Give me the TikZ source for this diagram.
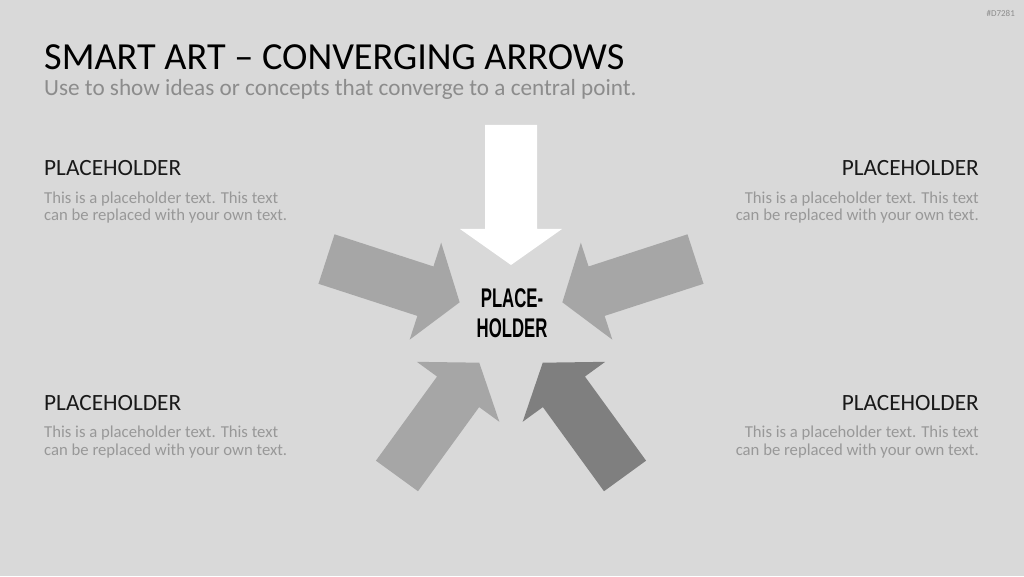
\documentclass[tikz,border=0pt]{standalone}
\usepackage{fontspec}
\setmainfont{Carlito}
\newfontfamily\ctrfont{Liberation Sans}
\definecolor{bg}{HTML}{D9D9D9}
\definecolor{arrowgray}{HTML}{A6A6A6}
\definecolor{arrowdark}{HTML}{7F7F7F}
\definecolor{subgray}{HTML}{8C8C8C}
\definecolor{bodygray}{HTML}{989898}
\begin{document}
\begin{tikzpicture}[x=1pt,y=1pt,
  heading/.style={inner sep=0pt, font=\fontsize{23.3}{26}\selectfont, text=black!90},
  bodytext/.style={inner sep=0pt, font=\fontsize{16.7}{18}\selectfont, text=bodygray}]
\fill[bg] (0,0) rectangle (1024,576);
\useasboundingbox (0,0) rectangle (1024,576);
\coordinate (c) at (511,257);
% arrows
\foreach \ang/\col in {90/white,162/arrowgray,18/arrowgray,234/arrowgray,306/arrowdark}{
  \begin{scope}[shift={(c)}, rotate=\ang]
    \fill[\col] (54,0) -- (90,51) -- (90,26) -- (194,26) -- (194,-26) -- (90,-26) -- (90,-51) -- cycle;
  \end{scope}
}
% center text
\node[inner sep=0pt, anchor=base] (ctr1) at (512,269) {\scalebox{0.62}[1]{\ctrfont\bfseries\fontsize{27}{30}\selectfont PLACE-}};
\node[inner sep=0pt, anchor=base] (ctr2) at (512,238.5) {\scalebox{0.62}[1]{\ctrfont\bfseries\fontsize{27}{30}\selectfont HOLDER}};
% title
\node[inner sep=0pt, anchor=base west, font=\fontsize{38.3}{44}\selectfont] (title) at (44,506) {SMART ART – CONVERGING ARROWS};
\node[inner sep=0pt, anchor=base west, font=\fontsize{23.2}{26}\selectfont, text=subgray] (sub) at (44,480) {Use to show ideas or concepts that converge to a central point.};
\node[inner sep=0pt, anchor=base east, font=\fontsize{9}{10}\selectfont, text=subgray] (code) at (1015,559) {\#D7281};
% text blocks
\node[heading, anchor=base west] (h1) at (44,400) {PLACEHOLDER};
\node[bodytext, anchor=base west] (b1a) at (44,372.7) {This is a placeholder text. This text};
\node[bodytext, anchor=base west] (b1b) at (44,355) {can be replaced with your own text.};
\node[heading, anchor=base east] (h2) at (979,400) {PLACEHOLDER};
\node[bodytext, anchor=base east] (b2a) at (979,372.7) {This is a placeholder text. This text};
\node[bodytext, anchor=base east] (b2b) at (979,355) {can be replaced with your own text.};
\node[heading, anchor=base west] (h3) at (44,166) {PLACEHOLDER};
\node[bodytext, anchor=base west] (b3a) at (44,138.7) {This is a placeholder text. This text};
\node[bodytext, anchor=base west] (b3b) at (44,121) {can be replaced with your own text.};
\node[heading, anchor=base east] (h4) at (979,166) {PLACEHOLDER};
\node[bodytext, anchor=base east] (b4a) at (979,138.7) {This is a placeholder text. This text};
\node[bodytext, anchor=base east] (b4b) at (979,121) {can be replaced with your own text.};
\end{tikzpicture}
\end{document}
